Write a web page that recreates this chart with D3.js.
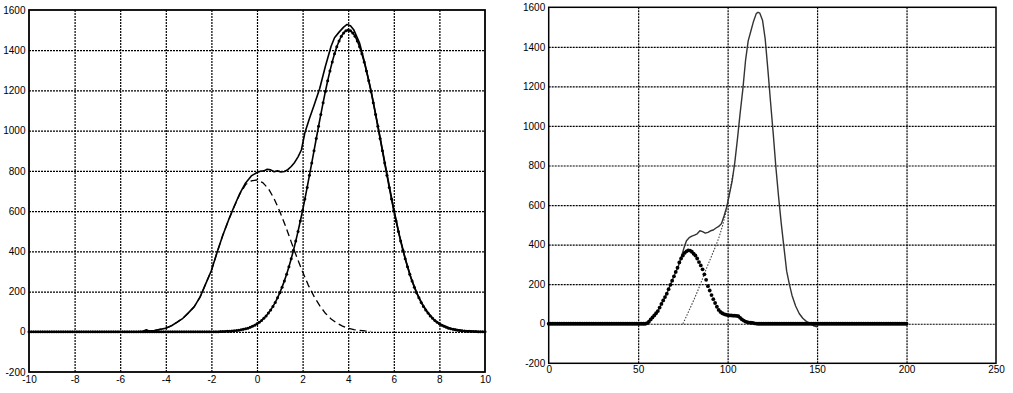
<html>

<head>
  <meta charset="utf-8">
  <script src="https://d3js.org/d3.v7.min.js"></script>
  <style>
    body {
      margin: 0;
      background: white;
    }

    .tick text {
      font-family: "Liberation Sans", Arial, sans-serif;
      font-size: 10px;
      fill: black;
    }

    .grid line {
      stroke: black;
      stroke-width: 1.2;
      stroke-dasharray: 2, 1;
    }
  </style>
</head>

<body>
  <svg id="vis" width="1013" height="393"></svg>
  <script>
    // ---------- left chart data ----------
    const leftXTicks = [-10, -8, -6, -4, -2, 0, 2, 4, 6, 8, 10];
    const leftYTicks = [-200, 0, 200, 400, 600, 800, 1000, 1200, 1400, 1600];

    // measured curve (solid)
    const measuredX = [-10, -7, -5.25, -5, -4.85, -4.75, -4.5, -4.25, -4, -3.75, -3.5, -3.25, -3, -2.75, -2.5, -2.25, -2, -1.75, -1.5, -1.25, -1, -0.75, -0.5, -0.25,
      0, 0.15, 0.3, 0.45, 0.6, 0.75, 0.9, 1.05, 1.2, 1.35, 1.5, 1.65, 1.8, 1.95, 2.1, 2.3, 2.5, 2.75, 3, 3.25, 3.4, 3.6, 3.8, 3.95,
      4.1, 4.25, 4.5, 4.75, 5, 5.25, 5.5, 5.75, 6, 6.25, 6.5, 6.75, 7, 7.25, 7.5, 7.75, 8, 8.5, 9, 9.5, 10];
    const measuredY = [0, 0, 0, 3, 10, 4, 6, 12, 18, 30, 48, 67, 95, 125, 172, 238, 305, 395, 480, 555, 624, 688, 740, 775,
      792, 798, 800, 808, 805, 796, 800, 795, 797, 806, 822, 842, 870, 905, 990, 1060, 1125, 1210, 1320, 1420, 1462, 1490, 1515, 1528,
      1522, 1500, 1435, 1325, 1200, 1055, 905, 755, 608, 478, 365, 270, 195, 138, 94, 62, 40, 16, 6, 2, 0];

    // small peak fit (dashed)
    const peak1X = [-5, -4.75, -4.5, -4.25, -4, -3.75, -3.5, -3.25, -3, -2.75, -2.5, -2.25, -2, -1.75, -1.5, -1.25, -1, -0.75, -0.5, -0.25,
      0, 0.25, 0.5, 0.75, 1, 1.25, 1.5, 1.75, 2, 2.25, 2.5, 2.75, 3, 3.25, 3.5, 3.75, 4, 4.25, 4.5, 4.75, 5];
    const peak1Y = [3, 5, 6, 12, 18, 30, 48, 67, 95, 125, 172, 238, 305, 395, 480, 555, 622, 685, 732, 750,
      755, 742, 712, 662, 598, 526, 447, 370, 298, 232, 176, 130, 92, 64, 43, 28, 18, 11, 7, 4, 2];

    // big peak fit (dotted with markers), sampled from -10 to 10 every 0.1
    const peak2Start = -10;
    const peak2Step = 0.1;
    const peak2Y = [
      0, 0, 0, 0, 0, 0, 0, 0, 0, 0, 0, 0, 0, 0, 0, 0, 0, 0, 0, 0,
      0, 0, 0, 0, 0, 0, 0, 0, 0, 0, 0, 0, 0, 0, 0, 0, 0, 0, 0, 0,
      0, 0, 0, 0, 0, 0, 0, 0, 0, 0, 0, 0, 0, 0, 0, 0, 0, 0, 0, 0,
      0, 0, 0, 0, 0, 0, 0, 0, 0, 0, 0, 0, 0, 0, 0, 0, 0, 0, 0, 0,
      0, 0, 0, 0,
      1, 1, 2, 3, 3, 4, 5, 6, 8, 10,
      12, 15, 18, 22, 27, 33, 40, 47, 56, 67,
      79, 93, 108, 126, 146, 169, 194, 222, 253, 286,
      323, 363, 405, 451, 499, 551, 603, 660, 718, 778,
      839, 900, 961, 1022, 1081, 1139, 1195, 1248, 1297, 1342,
      1382, 1417, 1446, 1470, 1486, 1497, 1500,
      1497, 1486, 1470, 1446, 1417, 1382, 1342, 1297, 1248, 1195,
      1139, 1081, 1022, 961, 900, 839, 778, 718, 660, 603,
      551, 499, 451, 405, 363, 323, 286, 253, 222, 194,
      169, 146, 126, 108, 93, 79, 67, 56, 47, 40,
      33, 27, 22, 18, 15, 12, 10, 8, 6, 5,
      4, 3, 3, 2, 1, 1, 0, 0, 0, 0];

    // ---------- right chart data ----------
    const rightXTicks = [0, 50, 100, 150, 200, 250];
    const rightYTicks = [-200, 0, 200, 400, 600, 800, 1000, 1200, 1400, 1600];

    // thick dots, one per unit from 0 to 200
    const dotsStart = 0;
    const dotsY = [
      0, 0, 0, 0, 0, 0, 0, 0, 0, 0, 0, 0, 0, 0, 0, 0, 0, 0, 0, 0,
      0, 0, 0, 0, 0, 0, 0, 0, 0, 0, 0, 0, 0, 0, 0, 0, 0, 0, 0, 0,
      0, 0, 0, 0, 0, 0, 0, 0, 0, 0, 0, 0, 0, 0, 0,
      3, 10, 22, 32, 42, 53, 64, 82, 100, 118,
      135, 152, 175, 197, 218, 240, 262, 283, 310, 330,
      345, 358, 366, 371, 370, 364, 354, 345, 330, 312,
      295, 275, 250, 222, 190, 168, 145, 124, 105, 86,
      70, 60, 53, 49, 46, 44, 42, 42, 41, 41,
      40, 38, 30, 22, 16, 11, 8, 6, 5, 4,
      2, 1,
      0, 0, 0, 0, 0, 0, 0, 0, 0, 0, 0, 0, 0, 0, 0, 0, 0, 0, 0, 0,
      0, 0, 0, 0, 0, 0, 0, 0, 0, 0, 0, 0, 0, 0, 0, 0, 0, 0, 0, 0,
      0, 0, 0, 0, 0, 0, 0, 0, 0, 0, 0, 0, 0, 0, 0, 0, 0, 0, 0, 0,
      0, 0, 0, 0, 0, 0, 0, 0, 0, 0, 0, 0, 0, 0, 0, 0, 0, 0, 0, 0,
      0, 0, 0, 0];

    // total curve (thin solid)
    const totalX = [50, 55, 57, 59, 61, 63, 66, 68, 70, 72.5, 74, 75.5, 77, 78.5, 80, 81.5, 83, 84.5, 86, 87.5, 89, 90.5, 92, 93.5, 95, 96.5, 98, 99.5,
      101, 102.5, 104, 105.5, 107, 108.5, 110, 111.5, 113, 114.5, 116, 117, 118, 119.5, 121, 122.5, 124, 125.5, 127, 128.5, 130,
      131.5, 133, 134.5, 136, 138, 140, 142, 144, 146, 148, 150];
    const totalY = [0, 3, 22, 42, 64, 100, 152, 197, 240, 292, 335, 380, 420, 435, 443, 448, 455, 470, 466, 458, 462, 470, 474, 484, 492, 505, 545, 590,
      655, 720, 815, 935, 1065, 1185, 1330, 1430, 1480, 1530, 1568, 1575, 1570, 1535, 1440, 1285, 1120, 960, 789, 640, 505,
      385, 266, 200, 143, 90, 52, 28, 12, 2, -10, -15];

    // fitted rise (thin dotted)
    const fitX = [75, 77, 79, 81, 83, 85, 87, 89, 91, 93, 95, 97, 99, 101, 103];
    const fitY = [0, 38, 78, 118, 160, 205, 252, 298, 342, 385, 432, 490, 560, 655, 760];

    let svg = d3.select("svg#vis");

    // draws frame, grid and tick labels, returns the scales
    function makePanel(box, xDomain, xTicks, yDomain, yTicks, gridX, frameW) {
      let xScale = d3.scaleLinear(xDomain, [box.left, box.right]);
      let yScale = d3.scaleLinear(yDomain, [box.bottom, box.top]);
      let w = box.right - box.left;
      let h = box.bottom - box.top;
      let fmt = d => String(d);

      svg.append("g")
        .attr("class", "grid")
        .attr("transform", `translate(${box.left},0)`)
        .call(d3.axisLeft(yScale).tickValues(yTicks.slice(1, -1)).tickFormat("").tickSize(-w))
        .call(g => g.select(".domain").remove());

      svg.append("g")
        .attr("class", "grid")
        .attr("transform", `translate(0,${box.bottom})`)
        .call(d3.axisBottom(xScale).tickValues(gridX).tickFormat("").tickSize(-h))
        .call(g => g.select(".domain").remove());

      svg.append("g")
        .attr("transform", `translate(${box.left},0)`)
        .call(d3.axisLeft(yScale).tickValues(yTicks).tickFormat(fmt).tickSize(0).tickPadding(3.5))
        .call(g => g.select(".domain").remove());

      svg.append("g")
        .attr("transform", `translate(0,${box.bottom})`)
        .call(d3.axisBottom(xScale).tickValues(xTicks).tickFormat(fmt).tickSize(0).tickPadding(box.xPad))
        .call(g => g.select(".domain").remove());

      svg.append("rect")
        .attr("x", box.left)
        .attr("y", box.top)
        .attr("width", w)
        .attr("height", h)
        .attr("fill", "none")
        .attr("stroke", "black")
        .attr("stroke-width", frameW);

      return { x: xScale, y: yScale };
    }

    // ---------- left chart ----------
    let leftBox = { left: 29, right: 485, top: 10, bottom: 372, xPad: 4 };
    let ls = makePanel(leftBox, [-10, 10], leftXTicks, [-200, 1600], leftYTicks, leftXTicks.slice(1, -1), 1.8);

    let peak2 = peak2Y.map((v, i) => ({ x: peak2Start + i * peak2Step, y: v }));

    let lineL = d3.line().x(d => ls.x(d.x)).y(d => ls.y(d.y));

    svg.append("path")
      .datum(peak1X.map((v, i) => ({ x: v, y: peak1Y[i] })))
      .attr("d", lineL)
      .attr("fill", "none")
      .attr("stroke", "black")
      .attr("stroke-width", 1.3)
      .attr("stroke-dasharray", "7,4");

    svg.append("path")
      .datum(peak2)
      .attr("d", lineL)
      .attr("fill", "none")
      .attr("stroke", "black")
      .attr("stroke-width", 1.6);

    svg.append("g").selectAll("circle").data(peak2)
      .join("circle")
      .attr("cx", d => ls.x(d.x))
      .attr("cy", d => ls.y(d.y))
      .attr("r", 1.5)
      .attr("fill", "black");

    svg.append("path")
      .datum(measuredX.map((v, i) => ({ x: v, y: measuredY[i] })))
      .attr("d", lineL)
      .attr("fill", "none")
      .attr("stroke", "black")
      .attr("stroke-width", 1.6)
      .attr("stroke-linejoin", "round");

    // ---------- right chart ----------
    let rightBox = { left: 548.7, right: 996, top: 7.3, bottom: 363.3, xPad: 3 };
    let rs = makePanel(rightBox, [0, 250], rightXTicks, [-200, 1600], rightYTicks, [50, 100, 150, 200], 1.5);

    let lineR = d3.line().x(d => rs.x(d.x)).y(d => rs.y(d.y));

    svg.append("path")
      .datum(fitX.map((v, i) => ({ x: v, y: fitY[i] })))
      .attr("d", lineR)
      .attr("fill", "none")
      .attr("stroke", "#444")
      .attr("stroke-width", 1.1)
      .attr("stroke-dasharray", "1.5,1.5");

    svg.append("path")
      .datum(totalX.map((v, i) => ({ x: v, y: totalY[i] })))
      .attr("d", lineR)
      .attr("fill", "none")
      .attr("stroke", "#333")
      .attr("stroke-width", 1.4)
      .attr("stroke-linejoin", "round");

    svg.append("g").selectAll("circle").data(dotsY.map((v, i) => ({ x: dotsStart + i, y: v })))
      .join("circle")
      .attr("cx", d => rs.x(d.x))
      .attr("cy", d => rs.y(d.y))
      .attr("r", 1.9)
      .attr("fill", "black");
  </script>
</body>

</html>
